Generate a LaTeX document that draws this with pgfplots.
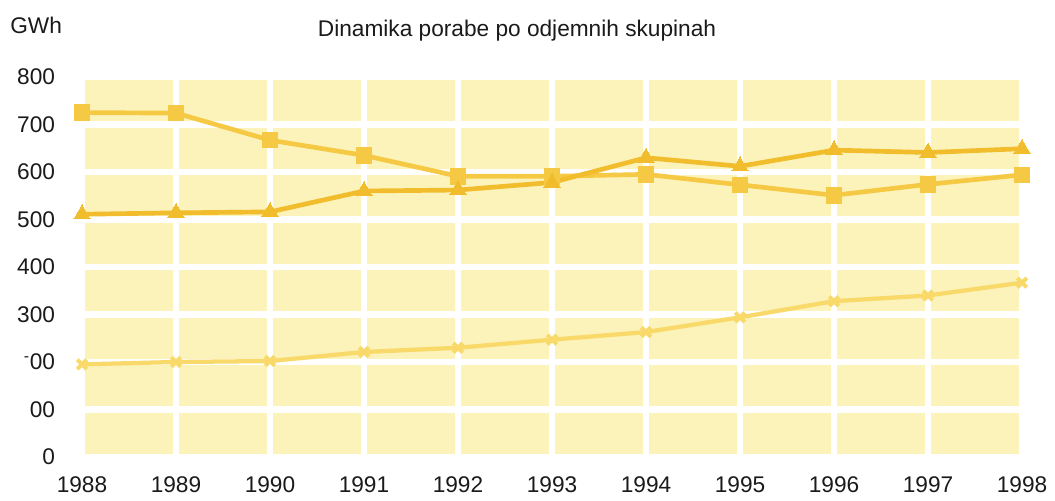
\documentclass[border=0pt]{standalone}
\usepackage{pgfplots}
\pgfplotsset{compat=1.18}
\usepackage{fontspec}
\setmainfont{Liberation Sans}
\usetikzlibrary{calc}
\definecolor{bgyel}{HTML}{FCF3BA}
\definecolor{sqcol}{HTML}{F6C945}
\definecolor{tricol}{HTML}{F2BD2C}
\definecolor{lowcol}{HTML}{F8D96A}
\definecolor{txt}{HTML}{1A1A1A}
\begin{document}
\begin{tikzpicture}
\begin{axis}[name=ax, scale only axis, width=705pt, height=285pt,
  xmin=1988, xmax=1998, ymin=0, ymax=800,
  xtick={1988,1989,1990,1991,1992,1993,1994,1995,1996,1997,1998},
  xticklabels={1988,1989,1990,1991,1992,1993,1994,1995,1996,1997,1998},
  ytick={0,100,200,300,400,500,600,700,800},
  yticklabels={0,00,{\textsuperscript{-}00},300,400,500,600,700,800},
  axis line style={draw=none}, major tick length=0pt,
  grid=major, major grid style={white, line width=5pt},
  axis background/.style={fill=bgyel},
  tick label style={font=\fontsize{17}{20}\selectfont, text=txt},
  yticklabel style={anchor=east, inner sep=0pt, xshift=-20pt},
  xticklabel style={anchor=north, inner sep=0pt, yshift=-14.5pt},
  clip=false,
]
\addplot[lowcol, line width=3.2pt, mark=x, mark size=5pt, mark options={line width=3pt}] coordinates {
(1988,195) (1989,200) (1990,202) (1991,221) (1992,230) (1993,247) (1994,263) (1995,294) (1996,328) (1997,340) (1998,367)};
\addplot[sqcol, line width=3.5pt, mark=square*, mark size=5.8pt, mark options={fill=sqcol, draw=sqcol, line width=0pt}] coordinates {
(1988,725) (1989,724) (1990,667) (1991,635) (1992,591) (1993,591) (1994,595) (1995,573) (1996,551) (1997,574) (1998,594)};
\addplot[tricol, line width=3.5pt, mark=triangle*, mark size=7pt, mark options={fill=tricol, draw=tricol, line width=0pt}] coordinates {
(1988,511) (1989,514) (1990,516) (1991,560) (1992,562) (1993,578) (1994,630) (1995,612) (1996,646) (1997,641) (1998,649)};
\end{axis}
\node[anchor=base west, inner sep=0pt, font=\fontsize{17}{20}\selectfont, text=txt] at ($(ax.north west)+(-54pt,32.25pt)$) {GWh};
\node[anchor=base, inner sep=0pt, font=\fontsize{17}{20}\selectfont, text=txt] at ($(ax.north west)+(326.25pt,30pt)$) {Dinamika porabe po odjemnih skupinah};
\pgfresetboundingbox
\path[use as bounding box] ($(ax.south west)+(-61.5pt,-33pt)$) rectangle ($(ax.north east)+(24.75pt,57.75pt)$);
\end{tikzpicture}
\end{document}
